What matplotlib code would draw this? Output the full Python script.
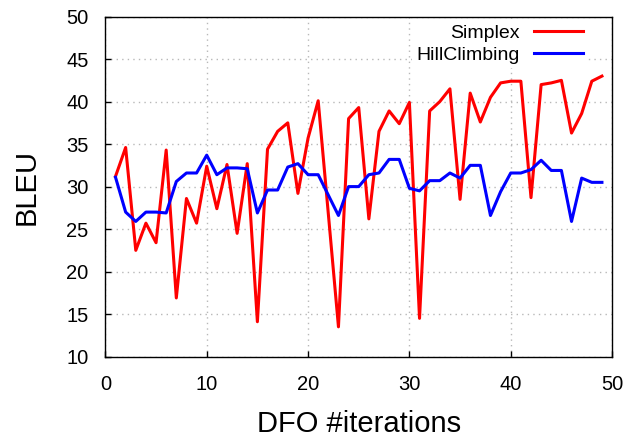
import matplotlib
matplotlib.use("Agg")
from matplotlib import pyplot as plt

plt.rcParams['font.family'] = ['Liberation Sans', 'DejaVu Sans']

# Data #
iterations = list(range(1, 50))

simplex = [31.2, 34.6, 22.5, 25.7, 23.4, 34.3, 16.9, 28.6, 25.7, 32.4,
           27.4, 32.6, 24.5, 32.7, 14.1, 34.4, 36.5, 37.5, 29.2, 35.7,
           40.1, 26.8, 13.5, 38.0, 39.3, 26.2, 36.5, 38.9, 37.4, 39.9,
           14.5, 38.9, 40.0, 41.5, 28.5, 41.0, 37.6, 40.5, 42.2, 42.4,
           42.4, 28.7, 42.0, 42.2, 42.5, 36.3, 38.6, 42.4, 43.0]

hill_climbing = [31.1, 27.0, 25.9, 27.0, 27.0, 26.9, 30.6, 31.6, 31.6, 33.7,
                 31.4, 32.2, 32.2, 32.1, 26.9, 29.6, 29.6, 32.3, 32.7, 31.4,
                 31.4, 29.0, 26.6, 30.0, 30.0, 31.4, 31.6, 33.2, 33.2, 29.8,
                 29.5, 30.7, 30.7, 31.6, 31.0, 32.5, 32.5, 26.6, 29.4, 31.6,
                 31.6, 32.0, 33.1, 31.9, 31.9, 25.9, 31.0, 30.5, 30.5]

x_name = "DFO #iterations"
y_name = "BLEU"

#PLOTTING--------------------------------------------------------------------------------------------------------------
fig = plt.figure(figsize=(6.31, 4.37), dpi=100)
ax = fig.add_axes([0.167, 0.184, 0.803, 0.778])

ax.plot(iterations, simplex, color='#ff0000', linewidth=2.2, label='Simplex')
ax.plot(iterations, hill_climbing, color='#0000ff', linewidth=2.2, label='HillClimbing')

ax.set_xlim(0, 50)
ax.set_ylim(10, 50)
ax.set_xticks(range(0, 51, 10))
ax.set_yticks(range(10, 51, 5))

# Grid #
ax.grid(True, color='#b8b8b8', linestyle=(0, (1, 3)), linewidth=1.0)
ax.set_axisbelow(True)

for s in ax.spines.values():
    s.set_linewidth(1.0)
    s.set_color('black')

ax.tick_params(direction='in', length=4.5, width=1, labelsize=14.5)
ax.tick_params(axis='y', pad=12)
ax.tick_params(axis='x', pad=13)

ax.set_xlabel(x_name, fontsize=21)
ax.set_ylabel(y_name, fontsize=21)
ax.xaxis.set_label_coords(0.5, -0.157)
ax.yaxis.set_label_coords(-0.127, 0.5)

# Legend #
leg = ax.legend(loc='upper right', bbox_to_anchor=(0.969, 1.017), markerfirst=False,
                fontsize=14, handlelength=2.5, handletextpad=0.75, labelspacing=0.22,
                borderpad=0.2, frameon=True, fancybox=False)
leg.get_frame().set_facecolor('white')
leg.get_frame().set_edgecolor('none')
leg.get_frame().set_alpha(1.0)
for t in leg.get_texts():
    t.set_ha('right')
leg._legend_box.align = 'right'

plt.savefig('out.png', dpi=100)
